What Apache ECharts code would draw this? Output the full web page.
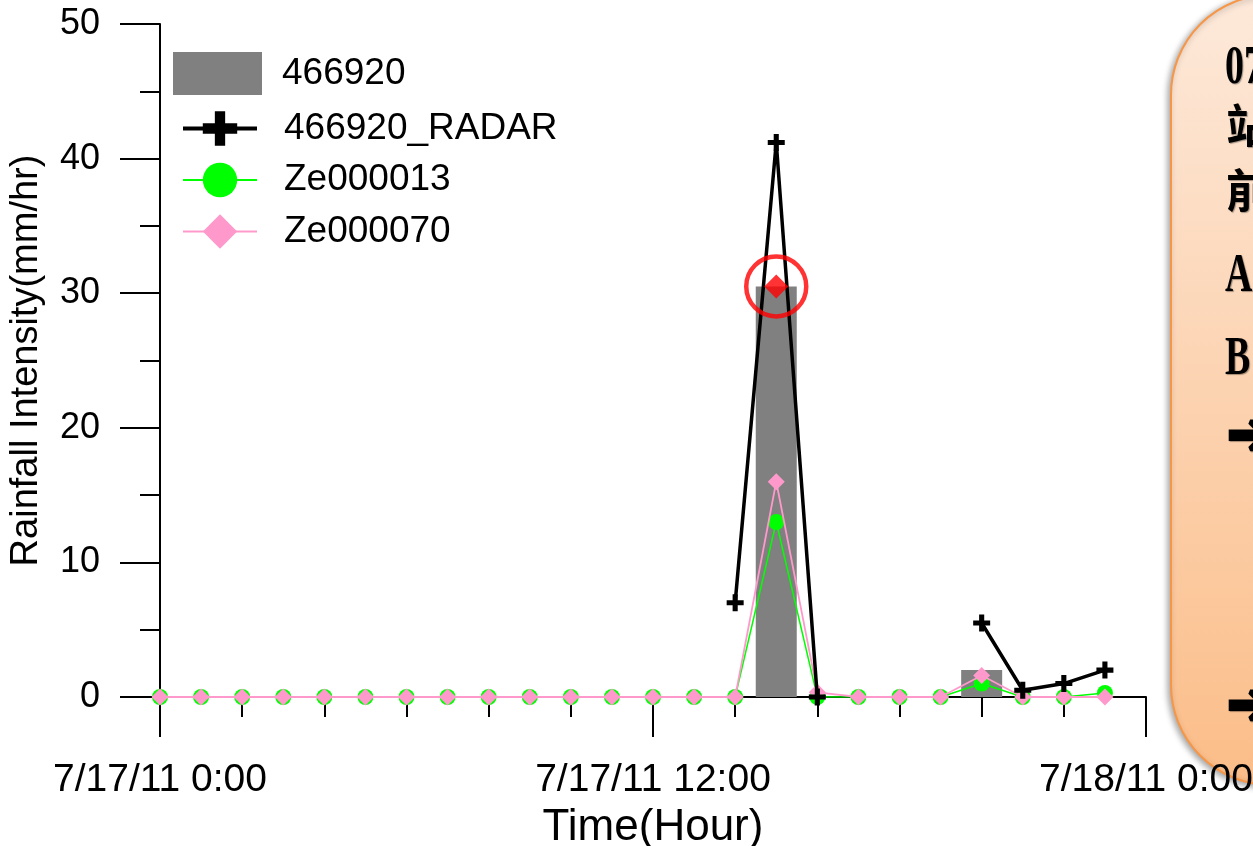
<!DOCTYPE html>
<html>
<head>
<meta charset="utf-8">
<script src="https://cdn.jsdelivr.net/npm/echarts@6/dist/echarts.min.js"></script>
<style>html,body{margin:0;padding:0;background:#fff}#c{width:1253px;height:846px}</style>
</head>
<body>
<div id="c"></div>
<script>
// ---- data ----
const hours = [0,1,2,3,4,5,6,7,8,9,10,11,12,13,14,15,16,17,18,19,20,21,22,23];
const gauge466920 = [0,0,0,0,0,0,0,0,0,0,0,0,0,0,0,30.5,0,0,0,0,2,0,0,0];
const radar466920 = [null,null,null,null,null,null,null,null,null,null,null,null,null,null,7,41.2,0,null,null,null,5.5,0.5,1,2];
const ze000013 = [0,0,0,0,0,0,0,0,0,0,0,0,0,0,0,13,0,0,0,0,1,0,0,0.3];
const ze000070 = [0,0,0,0,0,0,0,0,0,0,0,0,0,0,0,16,0.35,0,0,0,1.6,0,0,0];
const highlightPoint = [[15, 30.5]];
const xMajorTicks = [0, 12, 24];
const xMinorTicks = [0,2,4,6,8,10,12,14,16,18,20,22,24];
const xTickLabels = ['7/17/11 0:00', '7/17/11 12:00', '7/18/11 0:00'];
const yTicks = [0, 10, 20, 30, 40, 50];
const seriesNames = ['466920', '466920_RADAR', 'Ze000013', 'Ze000070'];
const calloutLines = ['0717 午後雷陣雨個案', '站 466920 臺北', '前 一小時降雨', 'A：雷達估計', 'B：雨量站觀測', '➔', '➔'];

const pair = arr => hours.map((h, i) => [h, arr[i] === null ? '-' : arr[i]]);
const FONT = '"Liberation Sans", Arial, sans-serif';
const plusPath = 'path://M3.5,0h3v3.5h3.5v3h-3.5v3.5h-3v-3.5h-3.5v-3h3.5z';

const calloutY = [69, 125, 190, 277, 360, 438, 708];
function calloutText(t, i) {
  const cjk = (i === 1 || i === 2);
  const arrow = i >= 5;
  return {
    type: 'text',
    x: arrow ? 1228 : (cjk ? 1226 : 1225),
    y: calloutY[i],
    scaleX: (cjk || arrow) ? 1 : 0.7,
    style: {
      text: t,
      font: arrow ? 'bold 56px "DejaVu Sans", sans-serif'
        : (cjk ? 'bold 46px "Noto Sans CJK TC", serif' : 'bold 54px "Liberation Serif", serif'),
      fill: '#000', textVerticalAlign: 'middle', textAlign: 'left',
      stroke: arrow ? '#000' : null, lineWidth: arrow ? 5 : 0,
      textShadowColor: 'rgba(0,0,0,0.35)', textShadowBlur: 1, textShadowOffsetX: 1, textShadowOffsetY: 1
    }
  };
}

const chart = echarts.init(document.getElementById('c'), null, {renderer: 'canvas'});
const option = {
  animation: false,
  backgroundColor: '#fff',
  grid: {left: 160, right: 107, top: 24, bottom: 149, containLabel: false, outerBoundsMode: 'none'},
  legend: [
    {
      data: [{name: seriesNames[0], icon: 'rect'}], left: 173, top: 52, orient: 'vertical', padding: 0,
      itemWidth: 89, itemHeight: 43, itemGap: 9,
      textStyle: {fontFamily: FONT, fontSize: 37, color: '#000', padding: [0, 0, 0, 15]},
      selectedMode: false
    },
    {
      data: [
        {name: seriesNames[1], lineStyle: {width: 4}},
        {name: seriesNames[2]},
        {name: seriesNames[3]}
      ],
      left: 181, top: 110, orient: 'vertical', padding: 0,
      itemWidth: 74, itemHeight: 43, itemGap: 14.5,
      textStyle: {fontFamily: FONT, fontSize: 37, color: '#000', padding: [0, 0, 0, 22]},
      selectedMode: false
    }
  ],
  xAxis: [
    {
      type: 'value', min: 0, max: 24, interval: 2,
      axisLine: {show: true, onZero: false, lineStyle: {color: '#000', width: 2}},
      axisTick: {show: true, length: 20, customValues: xMinorTicks, lineStyle: {color: '#000', width: 2}},
      axisLabel: {show: false},
      splitLine: {show: false}
    },
    {
      type: 'value', min: 0, max: 24, interval: 12, position: 'bottom',
      axisLine: {show: false, onZero: false},
      axisTick: {show: true, length: 40, customValues: xMajorTicks, lineStyle: {color: '#000', width: 2}},
      axisLabel: {
        show: true, margin: 64, fontFamily: FONT, fontSize: 39, color: '#000',
        customValues: xMajorTicks,
        formatter: v => xTickLabels[xMajorTicks.indexOf(Math.round(v))]
      },
      splitLine: {show: false},
      name: 'Time(Hour)', nameLocation: 'middle', nameGap: 109,
      nameTextStyle: {fontFamily: FONT, fontSize: 44, color: '#000'}
    }
  ],
  yAxis: {
    type: 'value', min: yTicks[0], max: yTicks[yTicks.length - 1], interval: 10,
    axisLine: {show: true, onZero: false, lineStyle: {color: '#000', width: 2}},
    axisTick: {show: true, length: 40, lineStyle: {color: '#000', width: 2}},
    minorTick: {show: true, splitNumber: 2, length: 20, lineStyle: {color: '#000', width: 2}},
    axisLabel: {margin: 60, fontFamily: FONT, fontSize: 36, color: '#000'},
    splitLine: {show: false},
    name: 'Rainfall Intensity(mm/hr)', nameLocation: 'middle', nameGap: 114, nameRotate: 90,
    nameTextStyle: {fontFamily: FONT, fontSize: 38, color: '#000'}
  },
  series: [
    {
      name: seriesNames[0], type: 'bar', xAxisIndex: 0, data: pair(gauge466920),
      barWidth: 41, itemStyle: {color: '#808080'}, z: 2
    },
    {
      name: seriesNames[1], type: 'line', xAxisIndex: 0, data: pair(radar466920),
      connectNulls: false, symbol: plusPath, symbolSize: 17,
      lineStyle: {color: '#000', width: 3.5}, itemStyle: {color: '#000'}, z: 6
    },
    {
      name: seriesNames[2], type: 'line', xAxisIndex: 0, data: pair(ze000013),
      symbol: 'circle', symbolSize: 16,
      lineStyle: {color: '#00FF00', width: 1.5}, itemStyle: {color: '#00FF00'}, z: 4
    },
    {
      name: seriesNames[3], type: 'line', xAxisIndex: 0, data: pair(ze000070),
      symbol: 'diamond', symbolSize: 17,
      lineStyle: {color: '#FF99CC', width: 1.8}, itemStyle: {color: '#FF99CC'}, z: 5
    },
    {
      name: 'highlight-ring', type: 'scatter', xAxisIndex: 0, data: highlightPoint,
      symbol: 'circle', symbolSize: 60,
      itemStyle: {color: 'rgba(0,0,0,0)', borderColor: '#FF0000', borderWidth: 4.5}, z: 7
    },
    {
      name: 'highlight-mark', type: 'scatter', xAxisIndex: 0, data: highlightPoint,
      symbol: 'diamond', symbolSize: 24, itemStyle: {color: '#FF0000'}, z: 8
    }
  ],
  graphic: [
    {
      type: 'group', z: 100, children: [
        {
          type: 'rect', shape: {x: 1171, y: -5, width: 200, height: 790, r: 100},
          style: {
            fill: new echarts.graphic.LinearGradient(0, 0, 0, 1, [
              {offset: 0, color: '#FDE9DA'},
              {offset: 1, color: '#FBBD88'}
            ]),
            stroke: '#F79646', lineWidth: 2,
            shadowBlur: 6, shadowColor: 'rgba(0,0,0,0.35)', shadowOffsetX: -2, shadowOffsetY: 2
          }
        }
      ].concat(calloutLines.map(calloutText))
    }
  ]
};
chart.setOption(option);
</script>
</body>
</html>
